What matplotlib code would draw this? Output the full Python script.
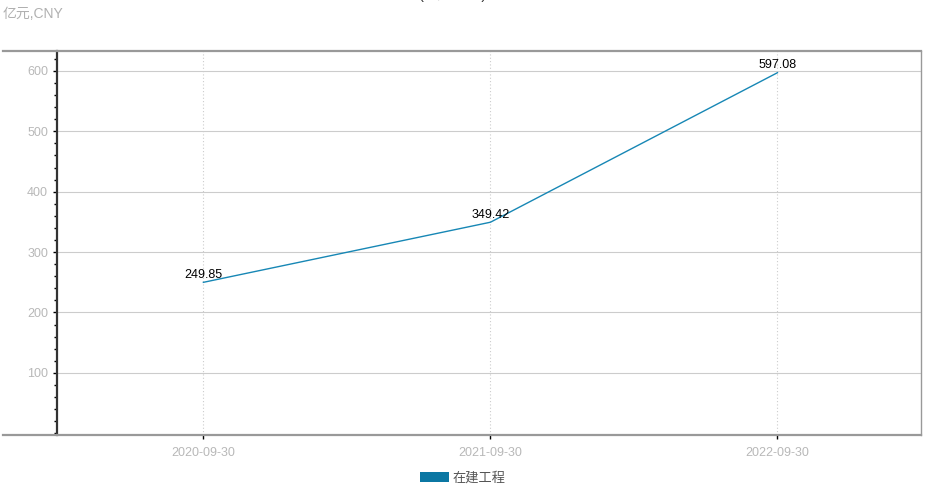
import matplotlib
matplotlib.use('Agg')
import matplotlib.pyplot as plt
from matplotlib.lines import Line2D
from matplotlib.patches import Patch
from matplotlib.ticker import MultipleLocator

plt.rcParams['font.family'] = ['Liberation Sans', 'Noto Sans CJK SC', 'DejaVu Sans']

dates = ['2020-09-30', '2021-09-30', '2022-09-30']
values = [249.85, 349.42, 597.08]
series_name = '在建工程'
unit_label = '亿元,CNY'
title = '(在建工程)'

W, H = 939, 495
fig = plt.figure(figsize=(W / 100, H / 100), dpi=100)
ax = fig.add_axes([57 / W, 1 - 435 / H, (921 - 57) / W, (435 - 51) / H])

xs = list(range(len(dates)))
ax.plot(xs, values, color='#1787b5', lw=1)
for x, v in zip(xs, values):
    ax.annotate('{:.2f}'.format(v), (x, v), xytext=(0, 1), textcoords='offset points',
                ha='center', va='bottom', fontsize=9, color='black')

ax.set_xlim(-0.51, 2.5)
ax.set_ylim(-3, 633)
ax.set_xticks(xs)
ax.set_xticklabels(dates)
ax.yaxis.set_major_locator(MultipleLocator(100))
ax.yaxis.set_minor_locator(MultipleLocator(20))
ax.set_yticks([100, 200, 300, 400, 500, 600])

ax.tick_params(axis='both', which='major', length=3, width=1, color='black',
               labelcolor='#b8b8b8', labelsize=9, direction='out')
ax.tick_params(axis='y', which='minor', length=2, width=1, color='black')
ax.tick_params(axis='x', pad=6)

ax.grid(axis='y', color='#cccccc', lw=0.8, ls='-')
ax.grid(axis='x', color='#cccccc', lw=0.8, ls=(0, (1, 2)))
ax.set_axisbelow(True)

ax.spines['top'].set_visible(False)
ax.spines['bottom'].set_visible(False)
ax.spines['left'].set_color('#333333')
ax.spines['left'].set_linewidth(1.6)
ax.spines['right'].set_color('#999999')
ax.spines['right'].set_linewidth(1)

# long horizontal frame lines reaching to the left edge
for yy in (51, 435):
    fig.add_artist(Line2D([3 / W, 921 / W], [1 - yy / H, 1 - yy / H],
                          color='#999999', lw=1.6, transform=fig.transFigure))

fig.text(3 / W, 1 - 14 / H, unit_label, color='#b0b0b0', fontsize=10,
         ha='left', va='center')
# title sits above the top edge, only the paren tails peek in
fig.text(452 / W, 1 + 1.5 / H, title, color='#333333', fontsize=10.5,
         ha='center', va='baseline')

handles = [Patch(facecolor='#0b77a3', edgecolor='none')]
fig.legend(handles, [series_name], loc='center', bbox_to_anchor=(463 / W, 1 - 478 / H),
           frameon=False, fontsize=9.5, labelcolor='#555555',
           handlelength=2.2, handleheight=0.8, handletextpad=0.3)

fig.savefig('out.png', dpi=100)
